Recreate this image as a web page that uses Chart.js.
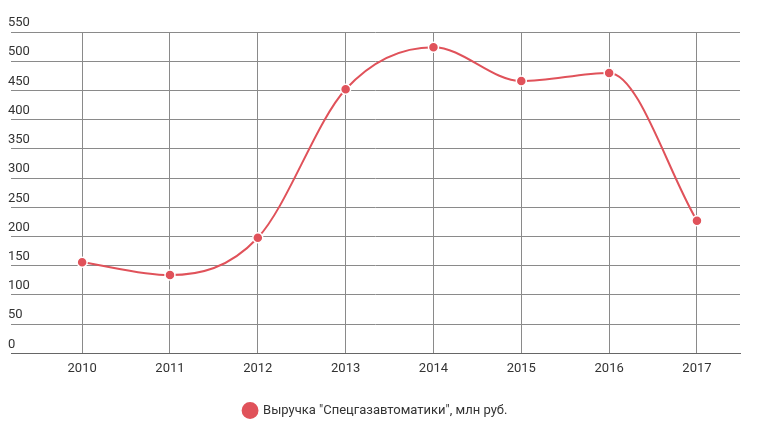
<!DOCTYPE html>
<html><head><meta charset="utf-8">
<script src="https://cdn.jsdelivr.net/npm/chart.js@4"></script>
<style>html,body{margin:0;padding:0;background:#fff}#w{width:757px;height:431px}</style>
</head><body><div id="w"><canvas id="c"></canvas></div>
<script>
const years = [2010, 2011, 2012, 2013, 2014, 2015, 2016, 2017];
const revenue = [156, 134, 198, 452, 524, 466, 480, 227];
const yTicks = [0, 50, 100, 150, 200, 250, 300, 350, 400, 450, 500, 550];
const seriesLabel = 'Выручка "Спецгазавтоматики", млн руб.';
const red = '#e0525a';
new Chart(document.getElementById('c'), {
  type: 'line',
  data: { datasets: [{
    label: seriesLabel,
    data: years.map((y, i) => ({x: y, y: revenue[i]})),
    borderColor: red, backgroundColor: red, borderWidth: 2,
    pointRadius: 5, pointBorderColor: '#fff', pointBorderWidth: 1.5,
    cubicInterpolationMode: 'monotone'
  }]},
  options: {
    responsive: true, maintainAspectRatio: false, animation: false,
    layout: { padding: { left: 11, right: 17, top: 32, bottom: 4 } },
    plugins: {
      tooltip: { enabled: false },
      legend: { position: 'bottom', labels: { usePointStyle: true, pointStyle: 'circle', boxWidth: 14, boxHeight: 14, padding: 19,
        color: '#333', font: { family: 'Roboto', size: 13 } } }
    },
    scales: {
      x: { type: 'linear', min: 2009.19, max: 2017.49,
        afterBuildTicks: a => { a.ticks = years.map(v => ({value: v})); },
        grid: { color: '#8a8a8a', drawTicks: false, lineWidth: 1 },
        border: { display: true, color: '#666' },
        ticks: { padding: 8, color: '#333', font: { family: 'Roboto', size: 13 }, callback: v => String(v) } },
      y: { min: 0, max: 550,
        afterBuildTicks: a => { a.ticks = yTicks.map(v => ({value: v})); },
        grid: { color: '#8a8a8a', drawTicks: false },
        border: { display: false },
        ticks: { mirror: true, padding: -1, labelOffset: -9, color: '#333', font: { family: 'Roboto', size: 13 } } }
    }
  }
});
</script></body></html>
